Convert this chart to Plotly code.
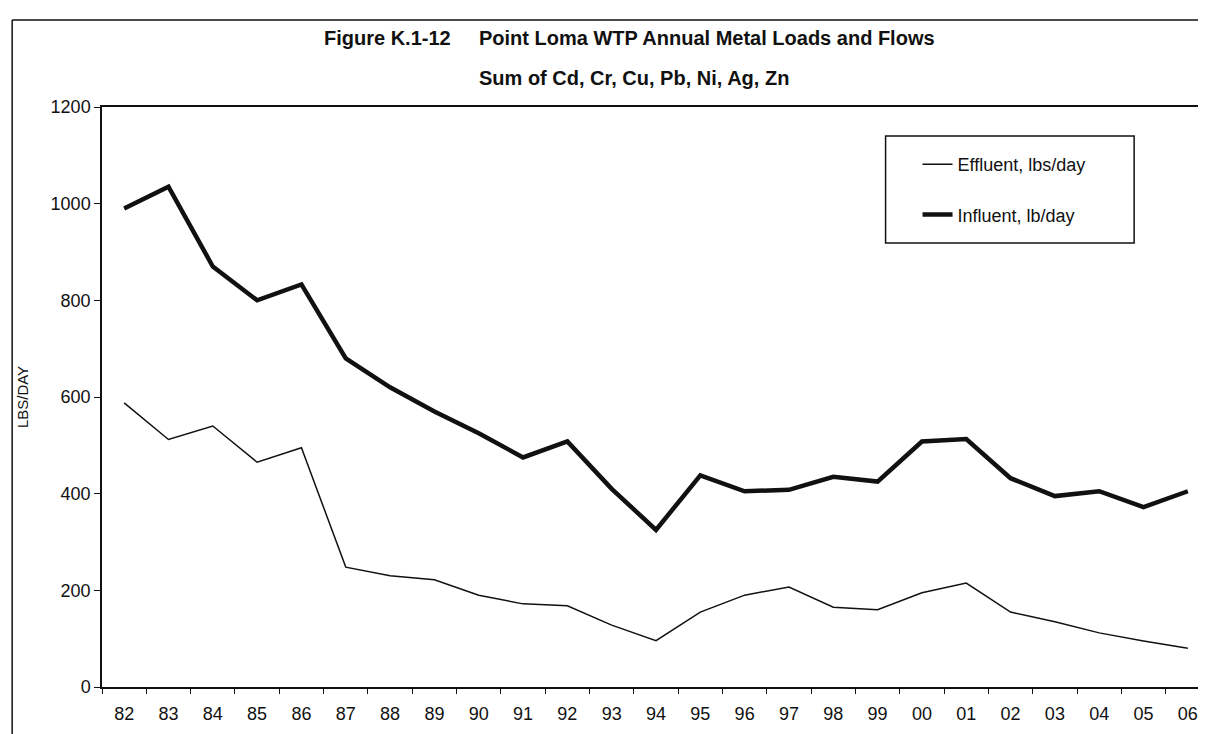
import plotly.graph_objects as go

years = ["82", "83", "84", "85", "86", "87", "88", "89", "90", "91", "92", "93", "94",
         "95", "96", "97", "98", "99", "00", "01", "02", "03", "04", "05", "06"]
effluent = [588, 512, 540, 465, 495, 248, 230, 222, 190, 172, 168, 128, 96,
            155, 190, 207, 165, 160, 195, 215, 155, 135, 112, 95, 80]
influent = [990, 1035, 870, 800, 833, 680, 620, 570, 525, 475, 508, 410, 325,
            438, 405, 408, 435, 425, 508, 513, 432, 395, 405, 372, 405]

W, H = 1206, 734
L, R, T, B = 94, 2, 99, 55
PW, PH = W - L - R, H - T - B

def px(x):
    return (x - L) / PW

def py(y):
    return (H - B - y) / PH

FONT = "Arial, Liberation Sans, sans-serif"
INK = "#111111"

fig = go.Figure()
fig.add_trace(go.Scatter(x=years, y=effluent, mode="lines", name="Effluent, lbs/day",
                         line=dict(color=INK, width=1.5), legendgroup="e"))
fig.add_trace(go.Scatter(x=years, y=influent, mode="lines", name="Influent, lb/day",
                         line=dict(color=INK, width=4.5), legendgroup="i"))

fig.update_layout(
    width=W, height=H,
    margin=dict(l=L, r=R, t=T, b=B),
    paper_bgcolor="white", plot_bgcolor="white",
    font=dict(family=FONT, color=INK, size=18),
    showlegend=True,
    legend=dict(x=px(911), y=py(138), xanchor="left", yanchor="top",
                bgcolor="rgba(0,0,0,0)", borderwidth=0,
                font=dict(size=18, family=FONT, color=INK),
                tracegroupgap=24, itemwidth=30),
    xaxis=dict(type="category", range=[-0.5, 24.5], showline=True, linecolor=INK,
               linewidth=1.5, mirror=True, ticks="outside", tickson="boundaries",
               ticklen=5, tickcolor=INK, showgrid=False, zeroline=False,
               ticklabelstandoff=10,
               tickfont=dict(size=18, family=FONT, color=INK)),
    yaxis=dict(range=[0, 1200], dtick=200, showline=True, linecolor=INK, linewidth=1.5,
               mirror=True, ticks="outside", ticklen=6, tickcolor=INK, showgrid=False,
               zeroline=False, tickfont=dict(size=18, family=FONT, color=INK),
               title=dict(text="LBS/DAY", font=dict(size=15, family=FONT, color=INK),
                          standoff=18)),
    shapes=[
        # legend frame
        dict(type="rect", xref="paper", yref="paper", x0=px(879), x1=px(1128),
             y0=py(235), y1=py(128), line=dict(color=INK, width=1.5)),
        # outer figure frame
        dict(type="line", xref="paper", yref="paper", x0=px(4), x1=px(4),
             y0=py(734), y1=py(12), line=dict(color=INK, width=1.5)),
        dict(type="line", xref="paper", yref="paper", x0=px(4), x1=px(1205),
             y0=py(12), y1=py(12), line=dict(color=INK, width=1.5)),
        dict(type="line", xref="paper", yref="paper", x0=px(1204), x1=px(1204),
             y0=py(734), y1=py(12), line=dict(color=INK, width=1.5)),
    ],
    annotations=[
        dict(text="<b>Figure K.1-12</b>", xref="paper", yref="paper", x=px(446), y=py(30),
             xanchor="right", yanchor="middle", showarrow=False,
             font=dict(size=20, family=FONT, color=INK)),
        dict(text="<b>Point Loma WTP Annual Metal Loads and Flows</b>", xref="paper",
             yref="paper", x=px(470), y=py(30), xanchor="left", yanchor="middle",
             showarrow=False, font=dict(size=20, family=FONT, color=INK)),
        dict(text="<b>Sum of Cd, Cr, Cu, Pb, Ni, Ag, Zn</b>", xref="paper", yref="paper",
             x=px(470), y=py(70), xanchor="left", yanchor="middle", showarrow=False,
             font=dict(size=20, family=FONT, color=INK)),
    ],
)

fig.write_html("out.html")
